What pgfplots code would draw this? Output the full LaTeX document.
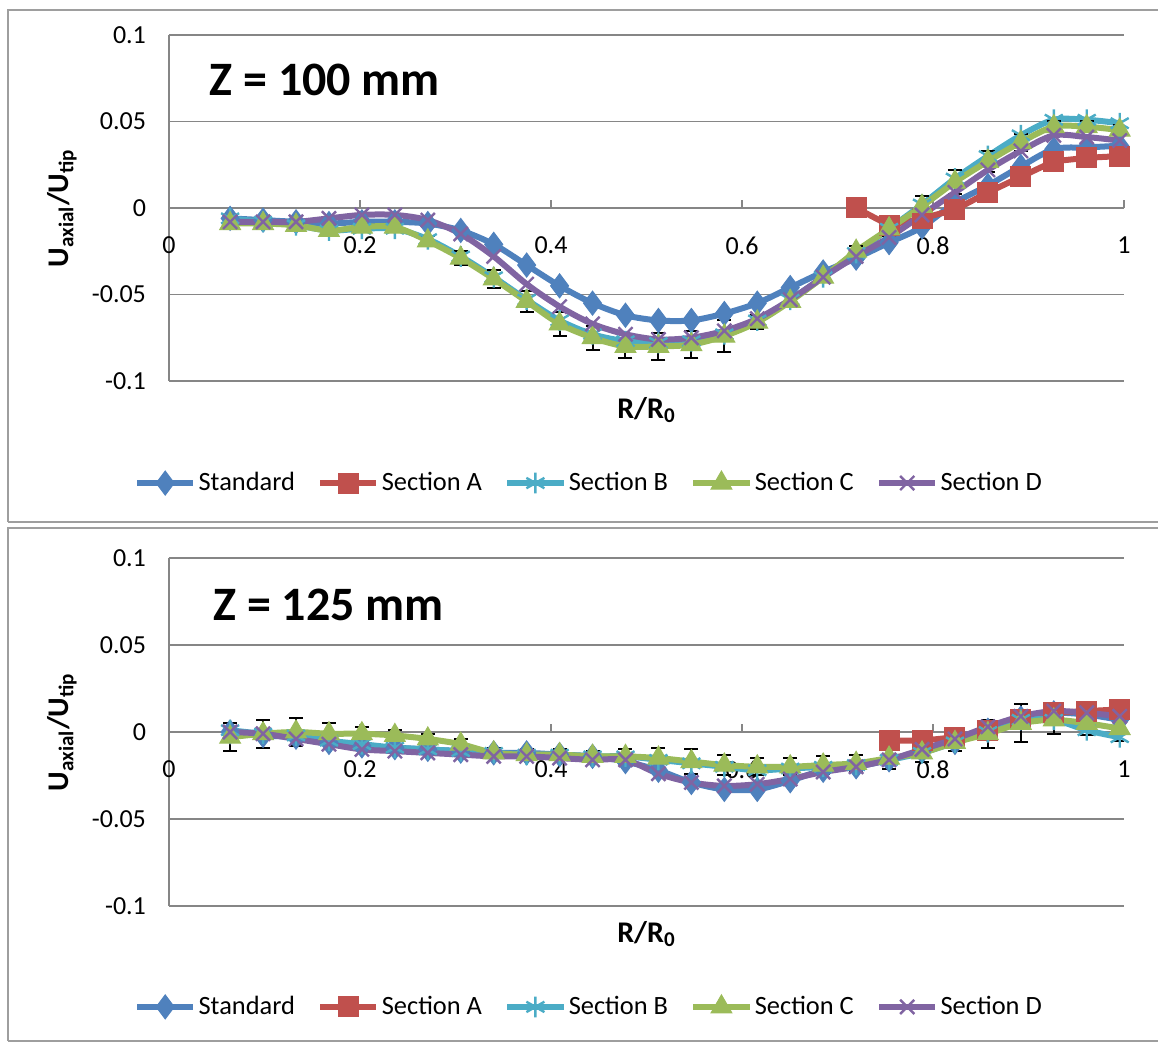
\documentclass[border=0pt]{standalone}
\usepackage{fontspec}
\setmainfont{Carlito}
\usepackage{pgfplots}
\usepackage{pgfplotstable}
\pgfplotsset{compat=1.18}
\definecolor{cStd}{HTML}{4F81BD}
\definecolor{cA}{HTML}{C0504D}
\definecolor{cB}{HTML}{4BACC6}
\definecolor{cC}{HTML}{9BBB59}
\definecolor{cD}{HTML}{8064A2}
\definecolor{gridgray}{HTML}{868686}

% Z = 100 mm
\pgfplotstableread{
x      std     B       C       D       eC
0.064  -0.006  -0.006  -0.009  -0.008  0.002
0.0985 -0.007  -0.008  -0.009  -0.008  0.002
0.133  -0.008  -0.010  -0.010  -0.008  0.002
0.1675 -0.009  -0.013  -0.013  -0.006  0.002
0.202  -0.008  -0.012  -0.011  -0.004  0.002
0.2365 -0.008  -0.012  -0.011  -0.004  0.002
0.271  -0.009  -0.018  -0.019  -0.007  0.003
0.3055 -0.013  -0.028  -0.029  -0.015  0.004
0.340  -0.021  -0.040  -0.041  -0.028  0.005
0.3745 -0.033  -0.053  -0.054  -0.044  0.006
0.409  -0.045  -0.065  -0.067  -0.057  0.007
0.4435 -0.055  -0.073  -0.075  -0.067  0.007
0.478  -0.062  -0.077  -0.080  -0.073  0.007
0.5125 -0.065  -0.078  -0.080  -0.076  0.008
0.547  -0.065  -0.077  -0.079  -0.075  0.008
0.5815 -0.061  -0.073  -0.074  -0.071  0.009
0.616  -0.055  -0.065  -0.066  -0.064  0.004
0.6505 -0.046  -0.053  -0.054  -0.053  0.003
0.685  -0.037  -0.040  -0.040  -0.040  0.003
0.7195 -0.029  -0.026  -0.025  -0.028  0.003
0.754  -0.020  -0.012  -0.012  -0.017  0.004
0.7885 -0.011   0.002   0.001  -0.004  0.006
0.823   0.003   0.017   0.015   0.009  0.007
0.8575  0.013   0.030   0.027   0.022  0.006
0.892   0.024   0.042   0.038   0.033  0.005
0.9265  0.034   0.051   0.047   0.042  0.003
0.961   0.035   0.051   0.047   0.041  0.003
0.9955  0.036   0.049   0.045   0.039  0.003
}\topdata

\pgfplotstableread{
x      A
0.7195  0.000
0.754  -0.010
0.7885 -0.006
0.823  -0.001
0.8575  0.009
0.892   0.018
0.9265  0.027
0.961   0.029
0.9955  0.030
}\topA

% Z = 125 mm
\pgfplotstableread{
x      std     B       C       D       eC
0.064   0.000   0.001  -0.003   0.000  0.008
0.0985 -0.002  -0.001  -0.001  -0.001  0.008
0.133  -0.003  -0.002   0.000  -0.004  0.008
0.1675 -0.006  -0.005  -0.001  -0.007  0.006
0.202  -0.008  -0.007  -0.001  -0.010  0.004
0.2365 -0.009  -0.009  -0.002  -0.011  0.003
0.271  -0.010  -0.010  -0.004  -0.012  0.003
0.3055 -0.011  -0.011  -0.007  -0.013  0.003
0.340  -0.012  -0.012  -0.012  -0.014  0.003
0.3745 -0.012  -0.013  -0.013  -0.014  0.003
0.409  -0.013  -0.013  -0.013  -0.015  0.003
0.4435 -0.014  -0.014  -0.014  -0.016  0.003
0.478  -0.017  -0.014  -0.014  -0.016  0.004
0.5125 -0.022  -0.016  -0.015  -0.024  0.006
0.547  -0.029  -0.018  -0.017  -0.029  0.007
0.5815 -0.033  -0.020  -0.019  -0.031  0.006
0.616  -0.033  -0.022  -0.020  -0.030  0.005
0.6505 -0.028  -0.021  -0.020  -0.027  0.005
0.685  -0.022  -0.020  -0.019  -0.023  0.005
0.7195 -0.020  -0.019  -0.018  -0.020  0.005
0.754  -0.016  -0.016  -0.015  -0.016  0.006
0.7885 -0.011  -0.012  -0.012  -0.010  0.005
0.823  -0.006  -0.006  -0.006  -0.004  0.005
0.8575  0.001   0.000  -0.001   0.003  0.008
0.892   0.008   0.007   0.005   0.009  0.011
0.9265  0.011   0.007   0.007   0.012  0.008
0.961   0.010   0.001   0.005   0.011  0.007
0.9955  0.007  -0.003   0.002   0.009  0.007
}\botdata

\pgfplotstableread{
x      A
0.754  -0.005
0.7885 -0.005
0.823  -0.003
0.8575  0.001
0.892   0.007
0.9265  0.011
0.961   0.012
0.9955  0.013
}\botA

\pgfplotsset{
  excel/.style={
    scale only axis, width=477.5pt,
    xmin=0, xmax=1, ymin=-0.1, ymax=0.1,
    axis x line=middle, axis y line=left,
    hide obscured x ticks=false, hide obscured y ticks=false,
    axis line style={draw=gridgray, line width=0.9pt, -},
    xtick={0,0.2,0.4,0.6,0.8,1}, xticklabels={0,0.2,0.4,0.6,0.8,1},
    ytick={-0.1,-0.05,0,0.05,0.1}, yticklabels={-0.1,-0.05,0,0.05,0.1},
    ymajorgrids, grid style={draw=gridgray, line width=0.9pt},
    major tick length=4pt,
    x tick style={draw=gridgray, line width=0.9pt, yshift=2pt},
    y tick style={draw=none},
    tick label style={font=\fontsize{13}{15}\selectfont, text=black},
    xticklabel style={yshift=-9pt},
    yticklabel style={xshift=-6pt},
    xlabel={\textbf{R/R\textsubscript{0}}},
    ylabel={\textbf{U\textsubscript{axial}/U\textsubscript{tip}}},
    label style={font=\fontsize{15}{18}\selectfont},
    ylabel style={at={(rel axis cs:-0.112,0.5)}, anchor=center},
    legend columns=5,
    legend style={draw=none, fill=none, font=\fontsize{13.2}{16}\selectfont,
      anchor=center, /tikz/every even column/.append style={column sep=10pt},
      nodes={inner sep=1.2pt}},
    legend image code/.code={\draw[mark repeat=2,mark phase=2] plot coordinates {(0pt,0pt) (14pt,0pt) (28pt,0pt)};},
  },
  sStd/.style={color=cStd, line width=3pt, smooth, mark=diamond*, mark size=6pt,
    mark options={solid, fill=cStd, draw=cStd, line width=0.5pt}},
  sA/.style={color=cA, line width=3pt, mark=square*, mark size=5pt,
    mark options={solid, fill=cA, draw=cA, line width=0.5pt}},
  sB/.style={color=cB, line width=3pt, smooth, mark=asterisk, mark size=5.2pt,
    mark options={solid, draw=cB, line width=1.2pt}},
  sC/.style={color=cC, line width=3pt, smooth, mark=triangle*, mark size=6pt,
    mark options={solid, fill=cC, draw=cC, line width=0.5pt}},
  sD/.style={color=cD, line width=3pt, smooth, mark=x, mark size=5pt,
    mark options={solid, draw=cD, line width=1.2pt}},
  ebar/.style={error bars/.cd, y dir=both, y explicit,
    error bar style={black, line width=1pt},
    error mark options={rotate=90, black, mark size=3.5pt, line width=1pt}},
}

\begin{document}
\begin{tikzpicture}
\useasboundingbox (0,0) rectangle (579pt,522pt);
% frames
\draw[gridgray!80, line width=0.8pt] (4pt,261pt) -- (4pt,517pt) -- (582pt,517pt);
\draw[gridgray!80, line width=0.8pt] (4pt,261pt) -- (582pt,261pt);
\draw[gridgray!80, line width=0.8pt] (4pt,1.5pt) -- (4pt,258pt) -- (582pt,258pt);
\draw[gridgray!80, line width=0.8pt] (4pt,1.5pt) -- (582pt,1.5pt);

\begin{axis}[excel, height=173pt, at={(84.5pt,331.5pt)}, anchor=south west,
  xlabel style={at={(rel axis cs:0.5,-0.084)}, anchor=center},
  legend style={at={(rel axis cs:0.44,-0.295)}}]
\addplot[sStd] table[x=x,y=std] {\topdata};
\addplot[sA] table[x=x,y=A] {\topA};
\addplot[sB] table[x=x,y=B] {\topdata};
\addplot[sC, ebar] table[x=x,y=C,y error=eC] {\topdata};
\addplot[sD] table[x=x,y=D] {\topdata};
\legend{Standard,Section A,Section B,Section C,Section D}
\node[anchor=west, font=\fontsize{24}{28}\bfseries\selectfont] at (rel axis cs:0.035,0.87) {Z = 100 mm};
\end{axis}

\begin{axis}[excel, height=174pt, at={(84.5pt,69pt)}, anchor=south west,
  xlabel style={at={(rel axis cs:0.5,-0.08)}, anchor=center},
  legend style={at={(rel axis cs:0.44,-0.29)}}]
\addplot[sStd] table[x=x,y=std] {\botdata};
\addplot[sA] table[x=x,y=A] {\botA};
\addplot[sB] table[x=x,y=B] {\botdata};
\addplot[sC, ebar] table[x=x,y=C,y error=eC] {\botdata};
\addplot[sD] table[x=x,y=D] {\botdata};
\legend{Standard,Section A,Section B,Section C,Section D}
\node[anchor=west, font=\fontsize{24}{28}\bfseries\selectfont] at (rel axis cs:0.039,0.865) {Z = 125 mm};
\end{axis}
\end{tikzpicture}
\end{document}
